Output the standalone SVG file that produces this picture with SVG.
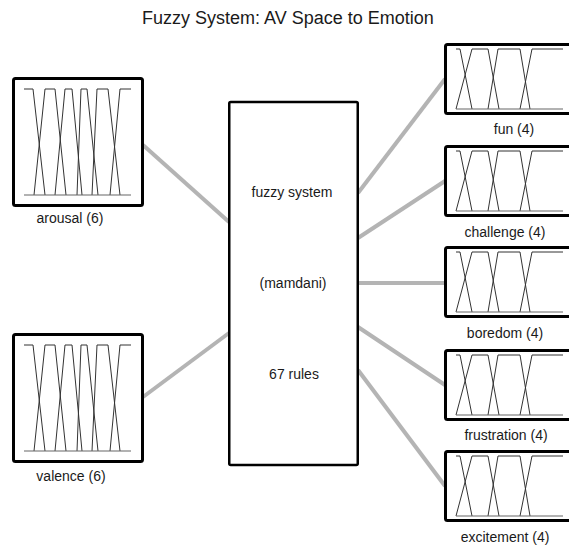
<svg xmlns="http://www.w3.org/2000/svg" xmlns:xlink="http://www.w3.org/1999/xlink" width="569" height="548" viewBox="0 0 569 548">
<style>
text{font-family:"Liberation Sans",Arial,sans-serif;fill:#1a1a1a;text-anchor:middle}
.title{font-size:18px}
.lbl{font-size:14px}
.box{fill:#fff;stroke:#000;stroke-width:3}
.core{fill:#fff;stroke:#000;stroke-width:2.5}
.mf{fill:none;stroke:#333;stroke-width:1}
.base{fill:none;stroke:#666;stroke-width:1.2}
.conn line{stroke:#b4b4b4;stroke-width:4;stroke-linecap:butt}
</style>
<defs>
<g id="mf6">
<path class="mf" d="M0,0H9L21,106M10,106L21,0H31L42,106M31,106L41,0H48L58,106M53,106L57,0H63L74,106M68,106L73,0H84L96,106M86,106L96,0H107"/>
<path class="base" d="M0,106H107"/>
</g>
<g id="mf4">
<path class="mf" d="M0,0H4L16,60M0,60L16,0H32L43,60M32,60L42,0H64L74,60M64,60L76,0H107"/>
<path class="base" d="M0,60H107"/>
</g>
</defs>
<rect width="569" height="548" fill="#fff"/>
<text class="title" x="288" y="24">Fuzzy System: AV Space to Emotion</text>
<g id="connectors" class="conn">
<line x1="143" y1="145" x2="229" y2="222"/>
<line x1="143" y1="397" x2="229" y2="333"/>
<line x1="358" y1="193" x2="445" y2="79"/>
<line x1="358" y1="238" x2="445" y2="181"/>
<line x1="358" y1="283" x2="445" y2="283"/>
<line x1="358" y1="327" x2="445" y2="385"/>
<line x1="358" y1="370" x2="445" y2="486"/>
</g>
<g id="arousal">
<rect class="box" x="13.5" y="78.5" width="129" height="127" rx="2"/>
<use xlink:href="#mf6" href="#mf6" transform="translate(24,89)"/>
<text class="lbl" x="70" y="223">arousal (6)</text>
</g>
<g id="valence">
<rect class="box" x="13.5" y="334.5" width="129" height="127" rx="2"/>
<use xlink:href="#mf6" href="#mf6" transform="translate(24,345)"/>
<text class="lbl" x="71" y="481">valence (6)</text>
</g>
<g id="fuzzy-system">
<rect class="core" x="229.25" y="102" width="128.5" height="363" rx="1.5"/>
<text class="lbl" x="292" y="197">fuzzy system</text>
<text class="lbl" x="293" y="288">(mamdani)</text>
<text class="lbl" x="294" y="379">67 rules</text>
</g>
<g id="fun">
<rect class="box" x="445.5" y="44.5" width="140" height="69" rx="2"/>
<use xlink:href="#mf4" href="#mf4" transform="translate(456,49)"/>
<text class="lbl" x="514" y="134">fun (4)</text>
</g>
<g id="challenge">
<rect class="box" x="445.5" y="146.5" width="140" height="69" rx="2"/>
<use xlink:href="#mf4" href="#mf4" transform="translate(456,151)"/>
<text class="lbl" x="505" y="237">challenge (4)</text>
</g>
<g id="boredom">
<rect class="box" x="445.5" y="247.5" width="140" height="69" rx="2"/>
<use xlink:href="#mf4" href="#mf4" transform="translate(456,252)"/>
<text class="lbl" x="505" y="338">boredom (4)</text>
</g>
<g id="frustration">
<rect class="box" x="445.5" y="350.5" width="140" height="69" rx="2"/>
<use xlink:href="#mf4" href="#mf4" transform="translate(456,355)"/>
<text class="lbl" x="506" y="440">frustration (4)</text>
</g>
<g id="excitement">
<rect class="box" x="445.5" y="451.5" width="140" height="69" rx="2"/>
<use xlink:href="#mf4" href="#mf4" transform="translate(456,456)"/>
<text class="lbl" x="505" y="542">excitement (4)</text>
</g>
</svg>
